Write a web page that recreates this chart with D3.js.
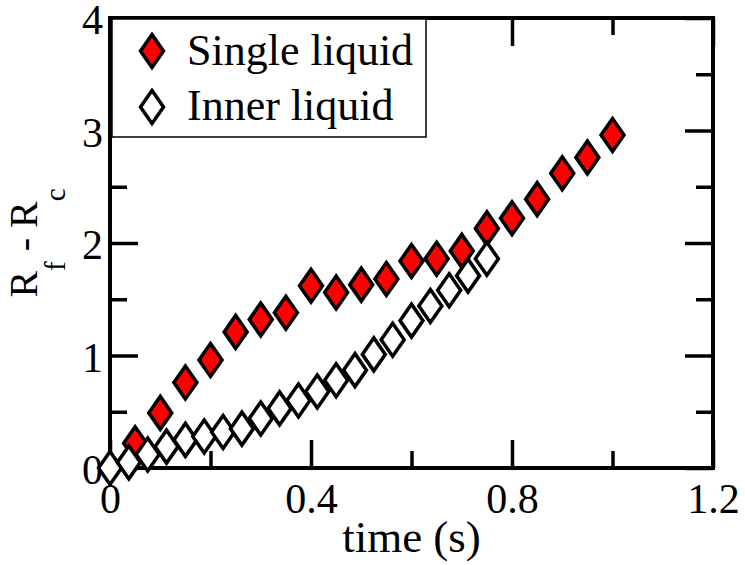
<!DOCTYPE html>
<html>
<head>
<meta charset="utf-8">
<script src="https://cdn.jsdelivr.net/npm/d3@7"></script>
</head>
<body style="margin:0">
<div id="chart"></div>
<script>
// data
var singleTime  = [0.05, 0.10, 0.15, 0.20, 0.25, 0.30, 0.35, 0.40, 0.45, 0.50,
                   0.55, 0.60, 0.65, 0.70, 0.75, 0.80, 0.85, 0.90, 0.95, 1.00];
var singleValue = [0.22, 0.49, 0.76, 0.96, 1.21, 1.32, 1.38, 1.62, 1.56, 1.63,
                   1.68, 1.84, 1.86, 1.93, 2.13, 2.22, 2.39, 2.62, 2.76, 2.96];

var innerTime  = [0, 0.0375, 0.075, 0.1125, 0.15, 0.1875, 0.225, 0.2625, 0.3, 0.3375,
                  0.375, 0.4125, 0.45, 0.4875, 0.525, 0.5625, 0.6, 0.6375, 0.675, 0.7125, 0.75];
var innerValue = [0.00, 0.05, 0.12, 0.19, 0.25, 0.28, 0.32, 0.35, 0.44, 0.53,
                  0.60, 0.68, 0.78, 0.87, 1.01, 1.14, 1.31, 1.44, 1.58, 1.71, 1.86];

var xMajor = [0, 0.4, 0.8, 1.2];
var xMinor = [0.2, 0.6, 1.0];
var yMajor = [0, 1, 2, 3, 4];
var yMinor = [0.5, 1.5, 2.5, 3.5];

var seriesNames = ["Single liquid", "Inner liquid"];
var seriesFill  = ["#ff0000", "#ffffff"];

var fontName = "'Liberation Serif'";

var margin = {top: 18, right: 32, bottom: 97, left: 110},
    width  = 745 - margin.left - margin.right,
    height = 565 - margin.top  - margin.bottom;

var x = d3.scaleLinear().domain([0, 1.2]).range([0, width]);
var y = d3.scaleLinear().domain([0, 4]).range([height, 0]);

var svg = d3.select("#chart").append("svg")
    .attr("width", 745)
    .attr("height", 565)
  .append("g")
    .attr("transform", "translate(" + margin.left + "," + margin.top + ")");

var fmt = function (d) { return d === 0 ? "0" : d3.format(".1f")(d); };

function setFont(sel, size) {
  sel.attr("font-family", fontName)
     .style("font-family", fontName)
     .style("font-size", size + "px");
}

function styleAxis(g) {
  g.attr("font-family", fontName).attr("font-size", null);
  g.select(".domain").remove();
  g.selectAll(".tick line").attr("stroke", "#000").attr("stroke-width", 3.5);
  g.selectAll(".tick text").attr("fill", "#000").call(setFont, 42);
}

// bottom
svg.append("g")
    .attr("transform", "translate(0," + height + ")")
    .call(d3.axisBottom(x).tickValues(xMajor).tickSize(-28).tickPadding(15).tickFormat(fmt))
    .call(styleAxis);
svg.append("g")
    .attr("transform", "translate(0," + height + ")")
    .call(d3.axisBottom(x).tickValues(xMinor).tickSize(-17).tickFormat(""))
    .call(styleAxis);
// top
svg.append("g")
    .call(d3.axisTop(x).tickValues(xMajor).tickSize(-28).tickFormat(""))
    .call(styleAxis);
svg.append("g")
    .call(d3.axisTop(x).tickValues(xMinor).tickSize(-17).tickFormat(""))
    .call(styleAxis);
// left
svg.append("g")
    .call(d3.axisLeft(y).tickValues(yMajor).tickSize(-28).tickPadding(7).tickFormat(d3.format("d")))
    .call(styleAxis)
    .selectAll(".tick text").attr("dy", "0.37em");
svg.append("g")
    .call(d3.axisLeft(y).tickValues(yMinor).tickSize(-17).tickFormat(""))
    .call(styleAxis);
// right
svg.append("g")
    .attr("transform", "translate(" + width + ",0)")
    .call(d3.axisRight(y).tickValues(yMajor).tickSize(-28).tickFormat(""))
    .call(styleAxis);
svg.append("g")
    .attr("transform", "translate(" + width + ",0)")
    .call(d3.axisRight(y).tickValues(yMinor).tickSize(-17).tickFormat(""))
    .call(styleAxis);

// frame
svg.append("rect")
    .attr("width", width)
    .attr("height", height)
    .attr("fill", "none")
    .attr("stroke", "#000")
    .attr("stroke-width", 4);

// axis titles
svg.append("text")
    .attr("x", width / 2)
    .attr("y", height + 84)
    .attr("text-anchor", "middle")
    .call(setFont, 45)
    .text("time (s)");

var yt = svg.append("text")
    .attr("transform", "translate(" + (37 - margin.left) + "," + (243 - margin.top) + ") rotate(-90)")
    .attr("text-anchor", "middle")
    .call(setFont, 40);
yt.append("tspan").text("R");
yt.append("tspan").attr("dy", 28).call(setFont, 29).text("f");
yt.append("tspan").attr("dy", -28).text(" - R");
yt.append("tspan").attr("dy", 28).call(setFont, 29).text("c");

// diamond marker
var diamond = "M0,-16.5L11.5,0L0,16.5L-11.5,0Z";

// legend
var legend = svg.append("g").attr("transform", "translate(2,1)");
legend.append("rect")
    .attr("width", 314)
    .attr("height", 118)
    .attr("fill", "#fff")
    .attr("stroke", "#000")
    .attr("stroke-width", 1.5);
seriesNames.forEach(function (name, i) {
  legend.append("path")
      .attr("d", diamond)
      .attr("transform", "translate(40," + (32 + i * 56) + ")")
      .attr("fill", seriesFill[i])
      .attr("stroke", "#000")
      .attr("stroke-width", 3.5);
  legend.append("text")
      .attr("x", 75)
      .attr("y", 46 + i * 55)
      .call(setFont, 44)
      .text(name);
});

// points
var single = singleTime.map(function (t, i) { return {t: t, v: singleValue[i]}; });
var inner  = innerTime.map(function (t, i) { return {t: t, v: innerValue[i]}; });

[single, inner].forEach(function (data, k) {
  svg.append("g").selectAll("path")
      .data(data)
    .enter().append("path")
      .attr("d", diamond)
      .attr("transform", function (d) { return "translate(" + x(d.t) + "," + y(d.v) + ")"; })
      .attr("fill", seriesFill[k])
      .attr("stroke", "#000")
      .attr("stroke-width", 3.5);
});
</script>
</body>
</html>
